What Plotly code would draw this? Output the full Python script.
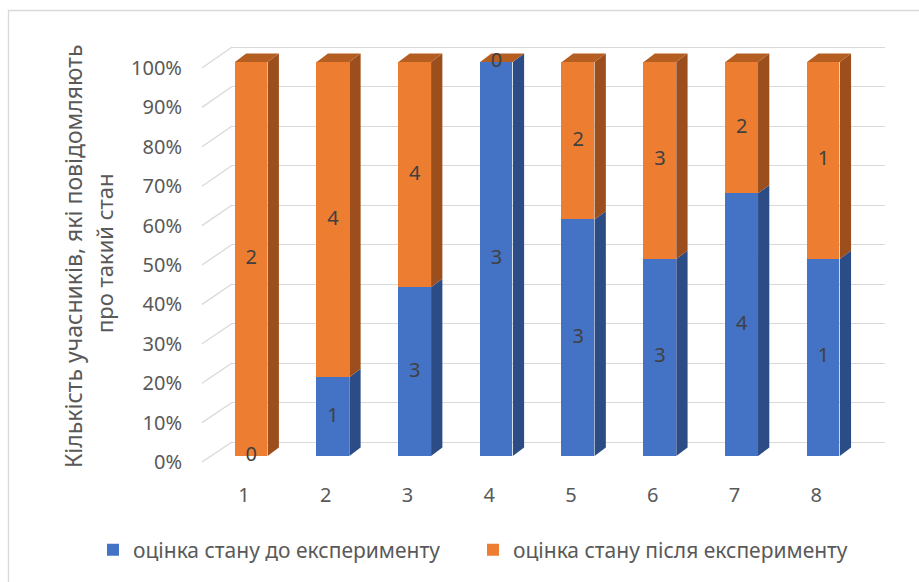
import plotly.graph_objects as go

# ---------------- data ----------------
categories = [1, 2, 3, 4, 5, 6, 7, 8]
before = [0, 1, 3, 3, 3, 3, 4, 1]
after = [2, 4, 4, 0, 2, 3, 2, 1]
series_names = ["оцінка стану до експерименту", "оцінка стану після експерименту"]
y_tickvals = [0, 10, 20, 30, 40, 50, 60, 70, 80, 90, 100]
y_ticktext = [f"{v}%" for v in y_tickvals]
y_title_lines = ["Кількість учасників, які повідомляють", "про такий стан"]

# ---------------- styles ----------------
W, H = 919, 582
BLUE, BLUE_SIDE = "#4472C4", "#2C4C86"
ORANGE, ORANGE_SIDE, ORANGE_TOP = "#ED7D31", "#9C4E1D", "#B55E22"
GRID = "#D9D9D9"
TEXT = "#595959"
LABEL = "#404040"
FONT = "Noto Sans"

def fx(p):
    return p / W

def fy(p):
    return 1 - p / H

totals = [b + a for b, a in zip(before, after)]
pct_before = [100 * b / t for b, t in zip(before, totals)]
pct_after = [100 * a / t for a, t in zip(after, totals)]

BAR_W = 0.40
DX = 0.138   # depth offset in category units
DY = 2.13    # depth offset in percent units

fig = go.Figure()

# invisible anchor trace for back-wall grid subplot
fig.add_trace(go.Scatter(x=[0], y=[0], mode="markers", marker=dict(opacity=0),
                         showlegend=False, hoverinfo="skip", xaxis="x", yaxis="y"))

# front faces
fig.add_trace(go.Bar(x=categories, y=pct_before, name=series_names[0], width=BAR_W,
                     marker=dict(color=BLUE, line=dict(width=0)),
                     xaxis="x2", yaxis="y2", hoverinfo="skip"))
fig.add_trace(go.Bar(x=categories, y=pct_after, name=series_names[1], width=BAR_W,
                     marker=dict(color=ORANGE, line=dict(width=0)),
                     xaxis="x2", yaxis="y2", hoverinfo="skip"))

# side and top faces, computed from data
bx, by, ox, oy, tx, ty = [], [], [], [], [], []
for c, pb in zip(categories, pct_before):
    xl, xr = c - BAR_W / 2, c + BAR_W / 2
    if pb > 0:
        bx += [xr, xr + DX, xr + DX, xr, xr, None]
        by += [0, DY, pb + DY, pb, 0, None]
    if pb < 100:
        ox += [xr, xr + DX, xr + DX, xr, xr, None]
        oy += [pb, pb + DY, 100 + DY, 100, pb, None]
    tx += [xl, xl + DX, xr + DX, xr, xl, None]
    ty += [100, 100 + DY, 100 + DY, 100, 100, None]

for xs, ys, col in [(bx, by, BLUE_SIDE), (ox, oy, ORANGE_SIDE), (tx, ty, ORANGE_TOP)]:
    fig.add_trace(go.Scatter(x=xs, y=ys, mode="lines", fill="toself", fillcolor=col,
                             line=dict(width=0, color=col), showlegend=False,
                             hoverinfo="skip", xaxis="x2", yaxis="y2"))

# data labels (counts)
lab_x = categories + categories
lab_y = [pb / 2 for pb in pct_before] + [pb + pa / 2 for pb, pa in zip(pct_before, pct_after)]
lab_t = [str(v) for v in before] + [str(v) for v in after]
fig.add_trace(go.Scatter(x=lab_x, y=lab_y, text=lab_t, mode="text",
                         textfont=dict(family=FONT, size=20, color=LABEL),
                         textposition="middle center", cliponaxis=False,
                         showlegend=False, hoverinfo="skip", xaxis="x2", yaxis="y2"))

# invisible anchor for label axes
fig.add_trace(go.Scatter(x=[1], y=[0], mode="markers", marker=dict(opacity=0),
                         showlegend=False, hoverinfo="skip", xaxis="x3", yaxis="y3"))

# ---------------- geometry ----------------
# back wall: 0% at 442px, 100% at 47px
bw_ppu = (442 - 47) / 100
bw_dom = [fy(442 + 2 * bw_ppu), fy(47 - 2 * bw_ppu)]
# bars: 0% at 456px, 100% at 62px
bar_ppu = (456 - 62) / 100
bar_dom = [fy(456), fy(456 - 104 * bar_ppu)]
# label axis: 0% at 462px, 100% at 68px
lab_dom = [fy(462), fy(68)]

shapes = []
for v in y_tickvals:
    shapes.append(dict(type="line", xref="paper", yref="paper",
                       x0=fx(202), y0=fy(462 - v * (462 - 68) / 100),
                       x1=fx(232), y1=fy(442 - v * bw_ppu),
                       line=dict(color=GRID, width=1.3), layer="below"))
# chart border
shapes.append(dict(type="rect", xref="paper", yref="paper",
                   x0=fx(8.5), y0=fy(10.5), x1=1.05, y1=-0.05,
                   line=dict(color=GRID, width=1.3), fillcolor="rgba(0,0,0,0)",
                   layer="below"))

annotations = [
    dict(text=y_title_lines[0], xref="paper", yref="paper", x=fx(73), y=fy(257),
         textangle=-90, showarrow=False, font=dict(family=FONT, size=23, color=TEXT),
         xanchor="center", yanchor="middle"),
    dict(text=y_title_lines[1], xref="paper", yref="paper", x=fx(104), y=fy(253),
         textangle=-90, showarrow=False, font=dict(family=FONT, size=22, color=TEXT),
         xanchor="center", yanchor="middle"),
]

fig.update_layout(
    width=W, height=H,
    margin=dict(l=0, r=0, t=0, b=0, autoexpand=False),
    paper_bgcolor="white", plot_bgcolor="rgba(0,0,0,0)",
    barmode="stack", bargap=0,
    font=dict(family=FONT, size=20, color=TEXT),
    showlegend=True,
    legend=dict(orientation="h", x=fx(93), xanchor="left", y=fy(550), yanchor="middle",
                traceorder="normal", font=dict(family=FONT, size=21, color=TEXT),
                itemwidth=30, entrywidth=335, entrywidthmode="pixels",
                bgcolor="rgba(0,0,0,0)"),
    xaxis=dict(domain=[fx(232), fx(885)], range=[0, 1], visible=False, anchor="y"),
    yaxis=dict(domain=bw_dom, range=[-2, 102], anchor="x", showgrid=True, gridcolor=GRID,
               gridwidth=1.3, tick0=0, dtick=10, zeroline=False, showline=False,
               showticklabels=False, ticks=""),
    xaxis2=dict(domain=[fx(210.4), fx(864.3)], range=[0.5, 8.5], anchor="y2",
                visible=False),
    yaxis2=dict(domain=bar_dom, range=[0, 104], anchor="x2", visible=False),
    xaxis3=dict(domain=[fx(203), fx(857)], range=[0.5, 8.5], anchor="free",
                position=fy(481), showgrid=False, zeroline=False,
                showline=False, ticks="", tickvals=categories,
                ticktext=[str(c) for c in categories], automargin=False,
                tickfont=dict(family=FONT, size=20, color=TEXT)),
    yaxis3=dict(domain=lab_dom, range=[0, 100], anchor="free", position=fx(182),
                showgrid=False, zeroline=False, showline=False, ticks="",
                tickvals=y_tickvals, ticktext=y_ticktext, automargin=False,
                tickfont=dict(family=FONT, size=20, color=TEXT)),
    shapes=shapes,
    annotations=annotations,
)

fig.write_html("out.html")
